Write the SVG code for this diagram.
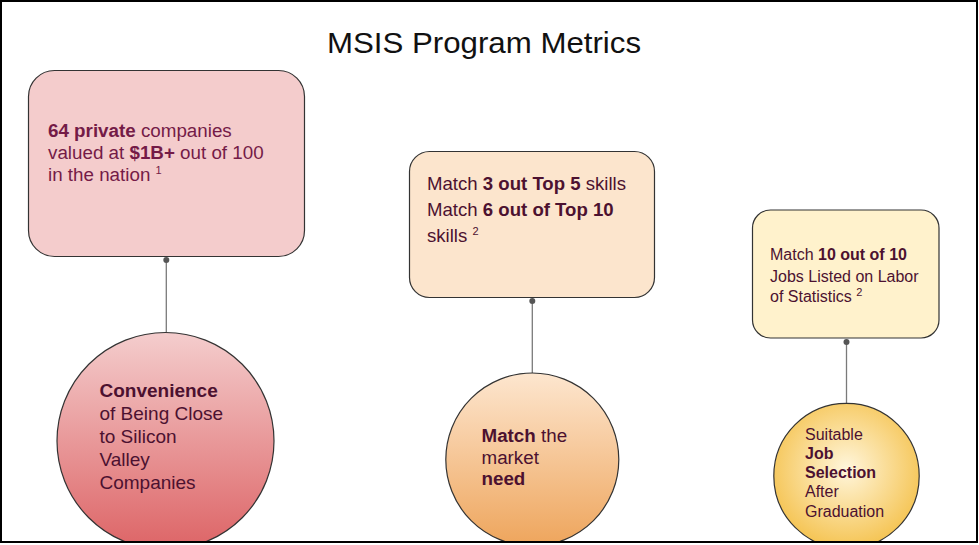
<svg xmlns="http://www.w3.org/2000/svg" width="979" height="545" viewBox="0 0 979 545">
<style>
text{font-family:"Liberation Sans",Arial,sans-serif}
.box{stroke:#333;stroke-width:1.2}
.circ{stroke:#333;stroke-width:1.2}
.b{font-weight:bold}
.c1{fill:#741b47}
.c2{fill:#4c1130}
.conn line{stroke:#7a7a7a;stroke-width:1.3}
.conn circle{fill:#555}
.sup{font-size:11px}
</style>
<defs>
<linearGradient id="g1" x1="0" y1="0" x2="0" y2="1">
<stop offset="0" stop-color="#f4cdcd"/>
<stop offset="1" stop-color="#dd6466"/>
</linearGradient>
<linearGradient id="g2" x1="0" y1="0" x2="0" y2="1">
<stop offset="0" stop-color="#fde6cf"/>
<stop offset="1" stop-color="#eea55c"/>
</linearGradient>
<radialGradient id="g3" cx="0.5" cy="0.45" r="0.55">
<stop offset="0" stop-color="#fff6dc"/>
<stop offset="1" stop-color="#f5c453"/>
</radialGradient>
<clipPath id="frame"><rect x="0" y="0" width="979" height="541"/></clipPath>
</defs>
<rect width="979" height="545" fill="#fff"/>
<text x="484" y="53" font-size="30" text-anchor="middle" fill="#111" textLength="314" lengthAdjust="spacingAndGlyphs">MSIS Program Metrics</text>

<g class="conn" id="connectors">
<line x1="166.3" y1="260" x2="166.3" y2="332"/>
<circle cx="166.3" cy="260" r="3"/>
<line x1="532.3" y1="301" x2="532.3" y2="373"/>
<circle cx="532.3" cy="301" r="3"/>
<line x1="846.5" y1="342" x2="846.5" y2="403"/>
<circle cx="846.5" cy="342" r="3"/>
</g>

<g id="box1">
<rect class="box" x="28.5" y="70.5" width="276" height="186" rx="26" fill="#f4cccc"/>
<text x="48" y="137" font-size="18.8" class="c1"><tspan class="b">64 private</tspan> companies</text>
<text x="48" y="159" font-size="18.8" class="c1">valued at <tspan class="b">$1B+</tspan> out of 100</text>
<text x="48" y="181" font-size="18.8" class="c1">in the nation <tspan class="sup" dy="-7">1</tspan></text>
</g>

<g id="box2">
<rect class="box" x="409.5" y="151.5" width="245" height="146" rx="20" fill="#fce5cd"/>
<text x="427" y="190" font-size="18.6" class="c2">Match <tspan class="b">3 out Top 5</tspan> skills</text>
<text x="427" y="216" font-size="18.6" class="c2">Match <tspan class="b">6 out of Top 10</tspan></text>
<text x="427" y="242" font-size="18.6" class="c2">skills <tspan class="sup" dy="-7">2</tspan></text>
</g>

<g id="box3">
<rect class="box" x="752.5" y="210" width="186.5" height="128" rx="18" fill="#fff2cc"/>
<text x="770" y="260" font-size="16" class="c2">Match <tspan class="b">10 out of 10</tspan></text>
<text x="770" y="281.5" font-size="16" class="c2">Jobs Listed on Labor</text>
<text x="770" y="302" font-size="16" class="c2">of Statistics <tspan class="sup" font-size="10" dy="-6">2</tspan></text>
</g>

<g id="circle1">
<circle class="circ" cx="165.5" cy="441" r="108.5" fill="url(#g1)" clip-path="url(#frame)"/>
<text x="99.5" y="397" font-size="19" class="c2 b">Convenience</text>
<text x="99.5" y="420" font-size="19" class="c2">of Being Close</text>
<text x="99.5" y="443" font-size="19" class="c2">to Silicon</text>
<text x="99.5" y="466" font-size="19" class="c2">Valley</text>
<text x="99.5" y="489" font-size="19" class="c2">Companies</text>
</g>

<g id="circle2">
<circle class="circ" cx="532.3" cy="459.5" r="86.5" fill="url(#g2)" clip-path="url(#frame)"/>
<text x="481.5" y="442" font-size="18.8" class="c2"><tspan class="b">Match</tspan> the</text>
<text x="481.5" y="463.5" font-size="18.8" class="c2">market</text>
<text x="481.5" y="485" font-size="18.8" class="c2 b">need</text>
</g>

<g id="circle3">
<circle class="circ" cx="846.5" cy="476" r="72.7" fill="url(#g3)" clip-path="url(#frame)"/>
<text x="805" y="439.5" font-size="16" class="c2">Suitable</text>
<text x="805" y="458.5" font-size="16" class="c2 b">Job</text>
<text x="805" y="478" font-size="16" class="c2 b">Selection</text>
<text x="805" y="497" font-size="16" class="c2">After</text>
<text x="805" y="516.5" font-size="16" class="c2">Graduation</text>
</g>

<rect x="1" y="1" width="976" height="541" fill="none" stroke="#000" stroke-width="2"/>
</svg>
